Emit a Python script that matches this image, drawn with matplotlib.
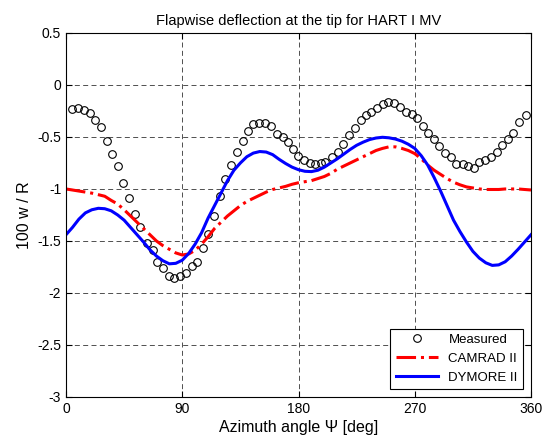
import numpy as np
from matplotlib import pyplot as plt

plt.rcParams['font.family'] = ['Liberation Sans', 'DejaVu Sans']

# measured tip deflection
meas_psi = [4.6, 9.3, 13.9, 18.6, 22.7, 26.8, 32.0, 35.9, 40.0, 44.1, 49.0, 53.4,
            57.3, 62.4, 67.1, 70.7, 75.3, 79.5, 83.6, 88.2, 92.8, 97.3, 101.1, 105.8,
            110.2, 114.6, 119.2, 123.4, 127.5, 132.1, 136.8, 141.2, 145.0, 149.7, 153.8,
            158.5, 163.1, 167.8, 171.6, 175.5, 179.9, 184.6, 188.9, 192.8, 197.2, 200.5,
            206.2, 210.8, 214.7, 219.4, 223.8, 228.1, 232.3, 236.1, 240.5, 245.2, 249.6,
            254.2, 258.6, 263.3, 267.6, 272.0, 276.1, 280.5, 284.9, 289.0, 293.4, 297.8,
            302.0, 307.1, 311.5, 315.9, 320.0, 324.4, 328.8, 333.4, 337.3, 342.4, 346.3,
            351.0, 355.8]
meas_w = [-0.23, -0.22, -0.24, -0.27, -0.34, -0.40, -0.54, -0.66, -0.78, -0.94, -1.09, -1.24,
          -1.37, -1.52, -1.59, -1.70, -1.76, -1.84, -1.86, -1.84, -1.81, -1.74, -1.70, -1.57,
          -1.43, -1.26, -1.07, -0.90, -0.77, -0.64, -0.54, -0.44, -0.38, -0.37, -0.37,
          -0.39, -0.47, -0.50, -0.55, -0.62, -0.68, -0.72, -0.75, -0.76, -0.75, -0.74,
          -0.69, -0.64, -0.57, -0.48, -0.41, -0.34, -0.29, -0.26, -0.22, -0.18, -0.16,
          -0.17, -0.21, -0.26, -0.28, -0.32, -0.39, -0.46, -0.52, -0.59, -0.65, -0.69,
          -0.76, -0.76, -0.78, -0.80, -0.74, -0.72, -0.69, -0.64, -0.58, -0.52, -0.46,
          -0.36, -0.29]

psi = np.arange(0, 361, 5)
camrad = [-1.00, -1.01, -1.02, -1.03, -1.04, -1.055, -1.07, -1.11, -1.145, -1.20,
          -1.26, -1.32, -1.38, -1.44, -1.50, -1.545, -1.58, -1.615, -1.635, -1.625,
          -1.59, -1.53, -1.46, -1.38, -1.32, -1.26, -1.21, -1.16, -1.12, -1.09,
          -1.06, -1.03, -1.005, -0.99, -0.975, -0.955, -0.94, -0.93, -0.92, -0.90,
          -0.88, -0.85, -0.81, -0.78, -0.75, -0.72, -0.69, -0.66, -0.63, -0.61,
          -0.595, -0.595, -0.61, -0.63, -0.66, -0.71, -0.77, -0.82, -0.86, -0.90,
          -0.935, -0.96, -0.98, -0.99, -1.00, -1.005, -1.005, -1.005, -1.00, -1.00,
          -1.00, -1.005, -1.01]
dymore = [-1.44, -1.37, -1.29, -1.23, -1.20, -1.186, -1.19, -1.21, -1.25, -1.30,
          -1.37, -1.44, -1.51, -1.585, -1.645, -1.69, -1.72, -1.715, -1.685, -1.62,
          -1.53, -1.42, -1.28, -1.16, -1.04, -0.92, -0.82, -0.75, -0.69, -0.655,
          -0.64, -0.645, -0.67, -0.715, -0.755, -0.79, -0.815, -0.83, -0.833, -0.82,
          -0.79, -0.75, -0.71, -0.665, -0.62, -0.58, -0.55, -0.525, -0.51, -0.503,
          -0.508, -0.52, -0.54, -0.57, -0.61, -0.68, -0.77, -0.89, -1.02, -1.16,
          -1.30, -1.41, -1.51, -1.60, -1.665, -1.71, -1.735, -1.73, -1.70, -1.645,
          -1.58, -1.51, -1.44]

fig = plt.figure(figsize=(5.5, 4.44), dpi=100)
ax = fig.add_axes([0.12, 0.106, 0.8455, 0.8197])

ax.plot(meas_psi, meas_w, 'o', mfc='none', mec='k', ms=5.5, mew=0.8, label='Measured')
ax.plot(psi, camrad, '-.', color='r', lw=2.2, label='CAMRAD II')
ax.plot(psi, dymore, '-', color='b', lw=2.2, label='DYMORE II')

ax.set_xlim(0, 360)
ax.set_ylim(-3, 0.5)
ax.set_xticks([0, 90, 180, 270, 360])
ax.set_yticks([-3, -2.5, -2, -1.5, -1, -0.5, 0, 0.5])
ax.set_yticklabels(['-3', '-2.5', '-2', '-1.5', '-1', '-0.5', '0', '0.5'])
ax.grid(True, color='k', linestyle=(0, (6, 4)), linewidth=0.6, alpha=0.8)
ax.tick_params(direction='in', top=True, right=True, labelsize=10, length=4)

ax.set_title('Flapwise deflection at the tip for HART I MV', fontsize=10.5)
ax.set_xlabel('Azimuth angle \u03a8 [deg]', fontsize=11.5, labelpad=3)
ax.set_ylabel('100 w / R', fontsize=11.5)

leg = ax.legend(loc='lower right', fontsize=9.5, fancybox=False, framealpha=1,
                edgecolor='k', borderaxespad=0.6, handlelength=3.2)
leg.get_frame().set_linewidth(0.8)

fig.savefig('out.png')
